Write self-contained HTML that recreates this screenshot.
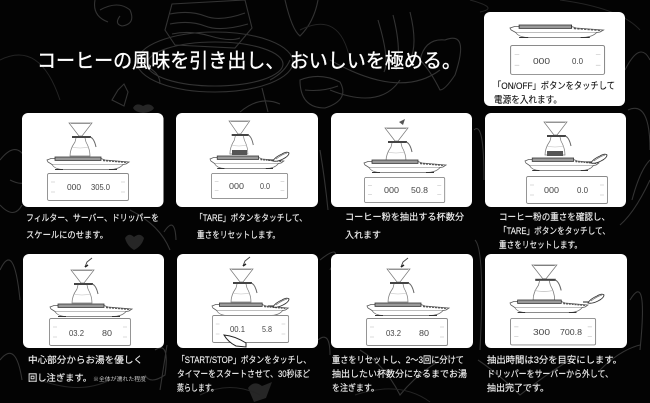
<!DOCTYPE html>
<html lang="ja">
<head>
<meta charset="utf-8">
<style>
html,body{margin:0;padding:0;background:#030303;width:650px;height:403px;overflow:hidden}
svg{display:block;filter:blur(.35px)}
text{font-family:"Liberation Sans","Noto Sans CJK JP",sans-serif}
.c{fill:#f2f2f2;font-size:9.2px;stroke:#f2f2f2;stroke-width:.14}
.b{fill:#111;font-size:9.4px;stroke:#111;stroke-width:.12}
.d{fill:#444;font-size:8.5px}
.dood{fill:none;stroke:#333;stroke-width:1.1}
.dood2{fill:none;stroke:#242424;stroke-width:1}
</style>
</head>
<body>
<svg width="650" height="403" viewBox="0 0 650 403" xmlns="http://www.w3.org/2000/svg">
<defs>
<g id="scale">
<path d="M0 4 L4 2.500 L54 2.500 L58 4 L82 6 L79 8 L76 8.500 L5 8.500 L1 6 Z" fill="#fff" stroke="#555" stroke-width=".8"/>
<rect x="8" y="1" width="46" height="3.400" fill="#999" stroke="#333" stroke-width=".8"/>
<path d="M56 4.500 L80 6.500" stroke="#555" stroke-width="1.300" stroke-dasharray="2 1" fill="none"/>
<path d="M5 8.500 Q8 13.500 17 13.500 L62 13.500 Q72 13.500 76 8.500" fill="#fff" stroke="#666" stroke-width=".7"/>
<path d="M8 13.500h8M62 13.500h8" stroke="#333" stroke-width="1"/>
</g>
<g id="disp">
<rect x=".5" y=".5" width="81" height="27" rx="1.500" fill="#fff" stroke="#8a8a8a" stroke-width=".9"/>
<path d="M4 9h4M4 19h4M74 9h4M74 19h4" stroke="#d0d0d0" stroke-width=".8"/>
</g>
<g id="drip">
<path d="M0 0 H23 L13 13 H10 Z" fill="#fff" stroke="#777" stroke-width=".7"/>
<path d="M2 .3H21" stroke="#555" stroke-width=".7"/>
<rect x="3" y="13" width="19" height="2" fill="#444"/>
<path d="M7 15 L6 19 Q1 26 1 33 H21 Q21 26 17 19 L16 15" fill="#fff" stroke="#777" stroke-width=".7"/>
<path d="M2 24 Q11 26 20 24" fill="none" stroke="#bbb" stroke-width=".6"/>
<path d="M21 14 Q25 15 27 24" fill="none" stroke="#666" stroke-width="1"/>
</g>
<g id="hand">
<path d="M0 10 Q2 6 9 3 Q14 0 16 2 Q16 5 10 8 Q4 11 0 10 Z" fill="#fff" stroke="#333" stroke-width=".9"/>
<path d="M3 8 Q8 4 14 2" fill="none" stroke="#555" stroke-width=".6"/>
<path d="M-5 9h6" stroke="#444" stroke-width="1.200"/>
</g>
<g id="pour">
<path d="M0 9 L2 4 L7 0" fill="none" stroke="#444" stroke-width="1"/>
<path d="M0 9 L3 7" stroke="#222" stroke-width="1.500"/>
</g>
</defs>

<!-- background doodles -->
<g class="dood">
<path d="M165 30 L172 4 L245 0 L252 28 L235 48 L175 45 Z"/>
<path d="M170 14 Q190 10 205 16 T245 13M170 24 Q190 20 205 26 T248 24M172 34 Q190 30 210 36 T240 38"/>
<ellipse cx="215" cy="62" rx="78" ry="30"/>
<ellipse cx="215" cy="64" rx="68" ry="22"/>
<path d="M160 84 Q160 72 145 66M270 80 Q285 72 290 60"/>
<path d="M100 10 Q118 0 130 10 Q136 24 122 26 Q114 24 120 16M95 0 Q92 16 108 22"/>
<path d="M285 0 Q292 30 300 36 Q314 22 318 0"/>
<path d="M118 90 L124 84 L128 92 L124 106 L112 100 Z"/>
<path d="M300 80 Q320 72 340 82 Q350 100 325 108 Q300 108 300 80Z M305 90 Q322 92 338 86"/>
<path d="M240 112 Q260 95 280 104M262 88 L268 112"/>
<path d="M378 20 Q390 60 384 72 M393 15 Q402 50 396 70M410 12 Q418 45 410 60"/>
<path d="M445 40 Q470 30 455 75 Q445 90 440 90 Q430 70 420 60 Q425 38 445 40Z"/>
<path d="M330 60 Q400 100 440 70M330 90 Q380 110 400 80"/>
<path d="M0 160 Q20 135 30 170 Q30 190 10 180M0 205 Q14 220 22 205"/>
<path d="M130 210 Q160 225 170 250M164 232 Q175 215 176 240"/>
<path d="M320 150 Q325 180 328 210M474 130 Q484 120 484 180"/>
<path d="M625 70 Q640 40 650 60M628 110 Q650 100 650 150M632 200 Q640 170 650 160M620 225 Q635 212 650 180"/>
<path d="M0 270 Q14 240 20 300M0 360 Q16 340 22 380"/>
<path d="M155 350 Q170 340 165 375 Q150 385 145 375M167 345 L160 390"/>
<path d="M320 260 Q345 240 330 270M318 340 Q330 330 330 355"/>
<path d="M475 240 Q485 250 480 350M630 300 Q648 270 640 350M600 370 Q620 350 640 345"/>
<path d="M360 350 Q385 365 400 395 Q420 370 450 355"/>
<path d="M478 360 Q500 375 520 395 Q545 375 570 360"/>
</g>
<path d="M133 108 Q136 102 143 106 Q150 102 154 108 Q152 112 143 113 Q135 112 133 108Z" fill="#262626"/>
<path d="M125 238 Q129 232 134 237 Q140 232 144 238 Q142 246 134 250 Q127 246 125 238Z" fill="#262626"/>
<path d="M248 388 Q254 380 262 386 L272 382 L266 398 L254 402 Z" fill="#262626"/>
<g class="dood2">
<path d="M0 60 Q40 40 60 100M470 0 Q500 8 480 12M560 0 Q620 8 640 30M300 30 Q340 10 350 60M40 380 Q80 395 110 380M200 395 Q230 380 260 395M355 395 Q400 380 430 402"/>
</g>

<!-- title -->
<text x="37" y="67.500" font-size="20" fill="#fff" stroke="#fff" stroke-width=".35" textLength="424" lengthAdjust="spacingAndGlyphs" xml:space="preserve">コーヒーの風味を引き出し、 おいしいを極める。</text>

<!-- cards -->
<g fill="#fff">
<rect x="22" y="113" width="141.500" height="94" rx="6"/>
<rect x="176" y="113" width="142" height="94" rx="6"/>
<rect x="331" y="113" width="141" height="94" rx="6"/>
<rect x="485" y="113" width="141" height="94" rx="6"/>
<rect x="484" y="12" width="141" height="94" rx="6"/>
<rect x="23" y="254" width="141" height="94" rx="6"/>
<rect x="177" y="254" width="141" height="94" rx="6"/>
<rect x="331" y="254" width="142" height="94" rx="6"/>
<rect x="485" y="254" width="142" height="94" rx="6"/>
</g>

<!-- card 1 -->
<use href="#drip" transform="translate(69,123)"/>
<use href="#scale" transform="translate(47,156)"/>
<use href="#disp" transform="translate(47,173)"/>
<text class="d" x="67" y="190" textLength="14" lengthAdjust="spacingAndGlyphs">000</text>
<text class="d" x="91" y="190" textLength="19" lengthAdjust="spacingAndGlyphs">305.0</text>

<!-- card 2 -->
<use href="#drip" transform="translate(229,121) scale(.9,1)"/>
<path d="M232 150h15v5h-15z" fill="#555"/>
<use href="#scale" transform="translate(210,155) scale(.9,1)"/>
<use href="#hand" transform="translate(273,151)"/>
<use href="#disp" transform="translate(211,173) scale(.94,.93)"/>
<text class="d" x="229" y="189" textLength="15" lengthAdjust="spacingAndGlyphs">000</text>
<text class="d" x="260" y="189" textLength="10" lengthAdjust="spacingAndGlyphs">0.0</text>

<!-- card 3 -->
<use href="#drip" transform="translate(385,128)"/>
<path d="M399 122 L405 119 L403 125 Z" fill="#555"/>
<use href="#scale" transform="translate(364,159)"/>
<use href="#disp" transform="translate(364,177) scale(.99,.93)"/>
<text class="d" x="384" y="193" textLength="15" lengthAdjust="spacingAndGlyphs">000</text>
<text class="d" x="411" y="193" textLength="17" lengthAdjust="spacingAndGlyphs">50.8</text>

<!-- card 4 -->
<use href="#drip" transform="translate(544,122)"/>
<path d="M547 151h16v5h-16z" fill="#555"/>
<use href="#scale" transform="translate(525,157) scale(.9,1)"/>
<use href="#hand" transform="translate(591,153)"/>
<use href="#disp" transform="translate(526,176)"/>
<text class="d" x="544" y="193" textLength="15" lengthAdjust="spacingAndGlyphs">000</text>
<text class="d" x="577" y="193" textLength="11" lengthAdjust="spacingAndGlyphs">0.0</text>

<!-- top card -->
<use href="#scale" transform="translate(510,24) scale(1.14,1)"/>
<use href="#disp" transform="translate(510,45) scale(1.16,1.07)"/>
<text class="d" x="533" y="64" textLength="17" lengthAdjust="spacingAndGlyphs">000</text>
<text class="d" x="572" y="64" textLength="11" lengthAdjust="spacingAndGlyphs">0.0</text>
<text class="b" x="493" y="89" textLength="122" lengthAdjust="spacingAndGlyphs">「ON/OFF」ボタンをタッチして</text>
<text class="b" x="494" y="103" textLength="68" lengthAdjust="spacingAndGlyphs">電源を入れます。</text>

<!-- row 2 card 1 -->
<use href="#pour" transform="translate(85,258)"/>
<use href="#drip" transform="translate(71,270)"/>
<use href="#scale" transform="translate(50,303)"/>
<use href="#disp" transform="translate(49,318)"/>
<text class="d" x="69" y="336" textLength="15" lengthAdjust="spacingAndGlyphs">03.2</text>
<text class="d" x="102" y="336" textLength="10" lengthAdjust="spacingAndGlyphs">80</text>

<!-- row 2 card 2 -->
<use href="#pour" transform="translate(243,257)"/>
<use href="#drip" transform="translate(230,269)"/>
<use href="#scale" transform="translate(212,302) scale(.93,1)"/>
<use href="#hand" transform="translate(273,297)"/>
<use href="#disp" transform="translate(212,315) scale(.94,1)"/>
<text class="d" x="230" y="332" textLength="15" lengthAdjust="spacingAndGlyphs">00.1</text>
<text class="d" x="262" y="332" textLength="10" lengthAdjust="spacingAndGlyphs">5.8</text>
<path d="M224 335 Q235 336 246 343 L246 347 L236 346 Q228 342 224 335 Z" fill="#fff" stroke="#222" stroke-width="1"/>

<!-- row 2 card 3 -->
<use href="#pour" transform="translate(401,258)"/>
<use href="#drip" transform="translate(387,269)"/>
<use href="#scale" transform="translate(367,302)"/>
<use href="#disp" transform="translate(366,318)"/>
<text class="d" x="386" y="336" textLength="15" lengthAdjust="spacingAndGlyphs">03.2</text>
<text class="d" x="419" y="336" textLength="10" lengthAdjust="spacingAndGlyphs">80</text>

<!-- row 2 card 4 -->
<use href="#drip" transform="translate(532,265) scale(1.08,1.06)"/>
<use href="#scale" transform="translate(510,299) scale(.95,1)"/>
<use href="#hand" transform="translate(588,293)"/>
<use href="#disp" transform="translate(510,318) scale(1.05,.98)"/>
<text class="d" x="533" y="335" textLength="17" lengthAdjust="spacingAndGlyphs">300</text>
<text class="d" x="560" y="335" textLength="22" lengthAdjust="spacingAndGlyphs">700.8</text>

<!-- captions -->
<text class="c" x="26" y="221" textLength="133" lengthAdjust="spacingAndGlyphs">フィルター、サーバー、ドリッパーを</text>
<text class="c" x="26" y="238" textLength="82" lengthAdjust="spacingAndGlyphs">スケールにのせます。</text>
<text class="c" x="195" y="221" textLength="112" lengthAdjust="spacingAndGlyphs">「TARE」ボタンをタッチして、</text>
<text class="c" x="197" y="238" textLength="83" lengthAdjust="spacingAndGlyphs">重さをリセットします。</text>
<text class="c" x="345" y="220" textLength="119" lengthAdjust="spacingAndGlyphs">コーヒー粉を抽出する杯数分</text>
<text class="c" x="345" y="238" textLength="36" lengthAdjust="spacingAndGlyphs">入れます</text>
<text class="c" x="499" y="220" textLength="111" lengthAdjust="spacingAndGlyphs">コーヒー粉の重さを確認し、</text>
<text class="c" x="499" y="234" textLength="111" lengthAdjust="spacingAndGlyphs">「TARE」ボタンをタッチして、</text>
<text class="c" x="499" y="248" textLength="83" lengthAdjust="spacingAndGlyphs">重さをリセットします。</text>

<text class="c" x="28" y="363" textLength="115" lengthAdjust="spacingAndGlyphs">中心部分からお湯を優しく</text>
<text class="c" x="28" y="381" textLength="64" lengthAdjust="spacingAndGlyphs">回し注ぎます。</text>
<text x="93" y="381" font-size="5.500" fill="#ccc" textLength="53" lengthAdjust="spacingAndGlyphs">※全体が濡れた程度</text>
<text class="c" x="177" y="363" textLength="134" lengthAdjust="spacingAndGlyphs">「START/STOP」ボタンをタッチし、</text>
<text class="c" x="177" y="377" textLength="133" lengthAdjust="spacingAndGlyphs">タイマーをスタートさせて、30秒ほど</text>
<text class="c" x="177" y="391" textLength="41" lengthAdjust="spacingAndGlyphs">蒸らします。</text>
<text class="c" x="332" y="363" textLength="132" lengthAdjust="spacingAndGlyphs">重さをリセットし、2〜3回に分けて</text>
<text class="c" x="332" y="377" textLength="135" lengthAdjust="spacingAndGlyphs">抽出したい杯数分になるまでお湯</text>
<text class="c" x="332" y="391" textLength="47" lengthAdjust="spacingAndGlyphs">を注ぎます。</text>
<text class="c" x="487" y="363" textLength="135" lengthAdjust="spacingAndGlyphs">抽出時間は3分を目安にします。</text>
<text class="c" x="487" y="377" textLength="126" lengthAdjust="spacingAndGlyphs">ドリッパーをサーバーから外して、</text>
<text class="c" x="487" y="391" textLength="62" lengthAdjust="spacingAndGlyphs">抽出完了です。</text>
</svg>
</body>
</html>
